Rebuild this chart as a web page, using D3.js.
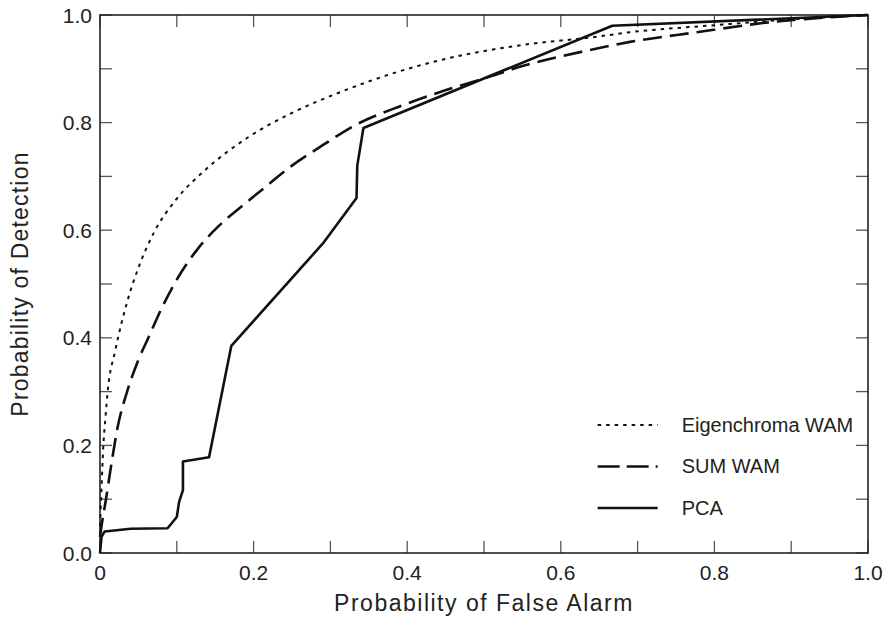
<!DOCTYPE html>
<html>
<head>
<meta charset="utf-8">
<script src="https://cdn.jsdelivr.net/npm/d3@7"></script>
<style>
  body { margin: 0; background: #fff; }
  text { font-family: "Liberation Sans", Arial, Helvetica, sans-serif; fill: #222; }
</style>
</head>
<body>
<div id="container"></div>
<script>
// curve data: [false alarm, detection]
const eigenchroma = [[0,0.05],[0.002,0.12],[0.004,0.19],[0.007,0.25],[0.010,0.30],[0.020,0.377],
  [0.036,0.47],[0.05,0.53],[0.07,0.595],[0.098,0.655],[0.137,0.712],[0.19,0.77],[0.25,0.818],
  [0.31,0.855],[0.378,0.89],[0.44,0.915],[0.508,0.935],[0.57,0.948],[0.638,0.958],[0.69,0.968],
  [0.80,0.981],[0.9,0.992],[1,1]];
const sumWam = [[0,0.03],[0.003,0.06],[0.007,0.093],[0.015,0.167],[0.023,0.234],[0.036,0.303],
  [0.05,0.359],[0.063,0.40],[0.081,0.457],[0.102,0.513],[0.126,0.563],[0.154,0.607],[0.185,0.645],
  [0.215,0.68],[0.25,0.72],[0.29,0.758],[0.332,0.795],[0.39,0.83],[0.443,0.857],[0.5,0.882],
  [0.55,0.905],[0.638,0.935],[0.69,0.950],[0.777,0.968],[0.863,0.985],[1,1]];
const pca = [[0,0],[0.002,0.03],[0.006,0.04],[0.04,0.045],[0.088,0.046],[0.100,0.067],[0.103,0.095],
  [0.108,0.117],[0.108,0.17],[0.142,0.178],[0.171,0.385],[0.29,0.575],[0.334,0.66],[0.335,0.72],
  [0.343,0.79],[0.667,0.98],[1,1]];
const seriesNames = ["Eigenchroma WAM", "SUM WAM", "PCA"];
const majorTicks = [0, 0.2, 0.4, 0.6, 0.8, 1.0];
const minorTicks = d3.range(0, 11).map(i => i / 10);

const margin = {top: 15, right: 18, bottom: 78, left: 100},
  width = 886 - margin.left - margin.right,
  height = 631 - margin.top - margin.bottom;

const svg = d3.select("#container")
  .append("svg")
    .attr("width", width + margin.left + margin.right)
    .attr("height", height + margin.top + margin.bottom)
  .append("g")
    .attr("transform", `translate(${margin.left},${margin.top})`);

const x = d3.scaleLinear().domain([0, 1]).range([0, width]);
const y = d3.scaleLinear().domain([0, 1]).range([height, 0]);

// inward ticks on all four sides
const tickLen = 12;
const tickStyle = g => g.selectAll("line").attr("stroke", "#555").attr("stroke-width", 1.3);
svg.append("g").selectAll("line").data(minorTicks).join("line")
  .attr("x1", d => x(d)).attr("x2", d => x(d)).attr("y1", height).attr("y2", height - tickLen);
svg.append("g").selectAll("line").data(minorTicks).join("line")
  .attr("x1", d => x(d)).attr("x2", d => x(d)).attr("y1", 0).attr("y2", tickLen);
svg.append("g").selectAll("line").data(minorTicks).join("line")
  .attr("y1", d => y(d)).attr("y2", d => y(d)).attr("x1", 0).attr("x2", tickLen);
svg.append("g").selectAll("line").data(minorTicks).join("line")
  .attr("y1", d => y(d)).attr("y2", d => y(d)).attr("x1", width).attr("x2", width - tickLen);
svg.selectAll("g").call(tickStyle);

// frame
svg.append("rect")
  .attr("width", width).attr("height", height)
  .attr("fill", "none").attr("stroke", "#222").attr("stroke-width", 1.6);

// tick labels
svg.append("g").selectAll("text").data(majorTicks).join("text")
  .attr("x", d => x(d)).attr("y", height + 27)
  .attr("text-anchor", "middle").attr("font-size", 21)
  .text(d => d === 0 ? "0" : d.toFixed(1));
svg.append("g").selectAll("text").data(majorTicks).join("text")
  .attr("x", -8).attr("y", d => y(d) + 7.5)
  .attr("text-anchor", "end").attr("font-size", 21)
  .text(d => d.toFixed(1));

// axis titles
svg.append("text")
  .attr("x", width / 2).attr("y", height + 58)
  .attr("text-anchor", "middle").attr("font-size", 23)
  .attr("letter-spacing", 1.5)
  .text("Probability of False Alarm");
svg.append("text")
  .attr("transform", `translate(${-72},${height / 2}) rotate(-90)`)
  .attr("text-anchor", "middle").attr("font-size", 23)
  .attr("letter-spacing", 1.2)
  .text("Probability of Detection");

const smooth = d3.line().curve(d3.curveMonotoneX).x(d => x(d[0])).y(d => y(d[1]));
const straight = d3.line().x(d => x(d[0])).y(d => y(d[1]));
const styles = [
  {dash: "3.5,5", w: 2, gen: smooth},
  {dash: "19,8", w: 2.6, gen: smooth},
  {dash: null, w: 2.6, gen: straight}
];
const allData = [eigenchroma, sumWam, pca];

svg.append("g").selectAll("path").data(allData).join("path")
  .attr("d", (d, i) => styles[i].gen(d))
  .attr("fill", "none")
  .attr("stroke", "#111")
  .attr("stroke-width", (d, i) => styles[i].w)
  .attr("stroke-dasharray", (d, i) => styles[i].dash)
  .attr("stroke-linejoin", "round");

// legend
const legend = svg.append("g").attr("transform", `translate(${x(0.648)},${y(0.238)})`);
legend.selectAll("line").data(seriesNames).join("line")
  .attr("x1", 0).attr("x2", 60)
  .attr("y1", (d, i) => i * 41.5).attr("y2", (d, i) => i * 41.5)
  .attr("stroke", "#111")
  .attr("stroke-width", (d, i) => styles[i].w)
  .attr("stroke-dasharray", (d, i) => i === 1 ? "22,7" : styles[i].dash);
legend.selectAll("text").data(seriesNames).join("text")
  .attr("x", 84).attr("y", (d, i) => i * 41.5 + 7)
  .attr("font-size", 20)
  .text(d => d);
</script>
</body>
</html>
